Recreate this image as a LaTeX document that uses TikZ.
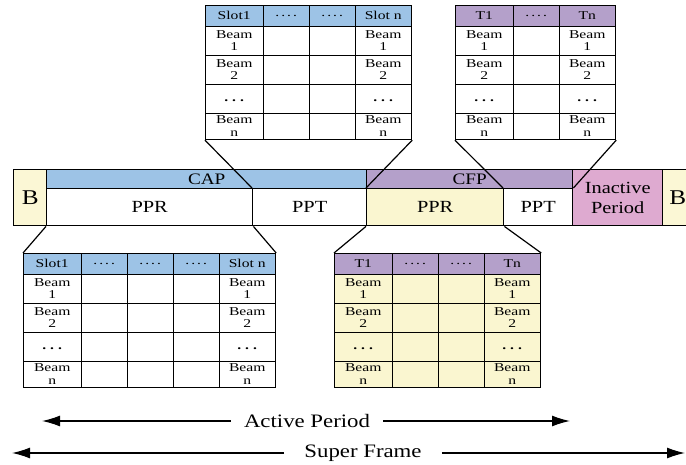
\documentclass[tikz,border=0pt]{standalone}
\usepackage{fontspec}
\setmainfont{Liberation Serif}
\newfontfamily\framefont{Liberation Serif}[FakeStretch=1.2]
\newfontfamily\cellfont{Liberation Serif}[FakeStretch=1.3]
\usetikzlibrary{arrows.meta}

\definecolor{capblue}{RGB}{157,195,230}
\definecolor{cfppurple}{RGB}{180,160,202}
\definecolor{byellow}{RGB}{251,247,213}
\definecolor{ppryellow}{RGB}{250,246,208}
\definecolor{inactpink}{RGB}{222,170,208}

% one zoomed table: name, position, middle columns, head colour, body colour, first/last head label
\newcommand{\beamtable}[7]{%
  \begin{scope}[shift={#2}]
    \pgfmathsetmacro{\lastx}{58+46*#3}
    \pgfmathsetmacro{\tablew}{\lastx+56}
    \node[headcell, fill=#4, minimum width=58pt] (#1-h0) at (0,0) {#6};
    \foreach \i in {1,...,#3}
      \node[headcell, fill=#4, minimum width=46pt] (#1-h\i) at ({58+46*(\i-1)},0) {.\,.\,.\,.};
    \node[headcell, fill=#4, minimum width=56pt] (#1-hn) at (\lastx,0) {#7};
    \foreach \r/\y/\h/\t in {1/21/29/{Beam\\1}, 2/50/29/{Beam\\2},
        3/79/29/{\raisebox{-5pt}{\textbf{.~.~.}}}, 4/108/26/{Beam\\n}} {
      \node[beamcell, fill=#5, minimum width=58pt, minimum height=\h pt] (#1-a\r) at (0,\y) {\t};
      \foreach \i in {1,...,#3}
        \node[beamcell, fill=#5, minimum width=46pt, minimum height=\h pt] (#1-m\r\i) at ({58+46*(\i-1)},\y) {};
      \node[beamcell, fill=#5, minimum width=56pt, minimum height=\h pt] (#1-z\r) at (\lastx,\y) {\t};
    }
    \node[tableframe, minimum width=\tablew pt] (#1) at (0,0) {};
  \end{scope}}

\begin{document}
\begin{tikzpicture}[x=1pt, y=-1pt,
    framebox/.style={draw, line width=1.4pt, anchor=north west, inner sep=0pt, align=center,
      font=\framefont\fontsize{17}{20}\selectfont},
    headcell/.style={draw, anchor=north west, inner sep=0pt, minimum height=21pt,
      font=\cellfont\fontsize{12}{12.5}\selectfont},
    beamcell/.style={draw, anchor=north west, inner sep=0pt, align=center,
      font=\cellfont\fontsize{12}{12.5}\selectfont},
    tableframe/.style={draw, line width=1.2pt, anchor=north west, inner sep=0pt, minimum height=134pt},
    zoomline/.style={line width=1.2pt},
    span/.style={line width=1.3pt, -{Latex[length=18pt,width=11pt]}},
    spanlabel/.style={font=\framefont\fontsize{19}{22}\selectfont, inner xsep=13pt}]
  \useasboundingbox (0,0) rectangle (686,465);
  \clip (0,0) rectangle (686,465);

  % super frame
  \node[framebox, fill=byellow, minimum width=33pt, minimum height=56pt, font=\framefont\fontsize{21}{22}\selectfont] (b1) at (13,169) {B};
  \node[framebox, fill=capblue, minimum width=320pt, minimum height=19pt, font=\framefont\fontsize{16}{18}\selectfont] (cap) at (46,169) {CAP};
  \node[framebox, fill=cfppurple, minimum width=206pt, minimum height=19pt, font=\framefont\fontsize{16}{18}\selectfont] (cfp) at (366,169) {CFP};
  \node[framebox, minimum width=206pt, minimum height=37pt] (ppr1) at (46,188) {PPR};
  \node[framebox, minimum width=114pt, minimum height=37pt] (ppt1) at (252,188) {PPT};
  \node[framebox, fill=ppryellow, minimum width=137pt, minimum height=37pt] (ppr2) at (366,188) {PPR};
  \node[framebox, minimum width=69pt, minimum height=37pt] (ppt2) at (503,188) {PPT};
  \node[framebox, fill=inactpink, minimum width=90pt, minimum height=56pt] (inact) at (572,169) {Inactive\\Period};
  \node[framebox, fill=byellow, minimum width=30pt, minimum height=56pt, font=\framefont\fontsize{21}{22}\selectfont] (b2) at (662,169) {B};

  % zoomed tables
  \beamtable{capT}{(205,5)}{2}{capblue}{white}{Slot1}{Slot n}
  \beamtable{cfpT}{(455,5)}{1}{cfppurple}{white}{T1}{Tn}
  \beamtable{capB}{(23,253)}{3}{capblue}{white}{Slot1}{Slot n}
  \beamtable{cfpB}{(334,253)}{2}{cfppurple}{ppryellow}{T1}{Tn}

  \draw[zoomline] (capT.south west) -- (ppt1.north west);
  \draw[zoomline] (capT.south east) -- (ppr2.north west);
  \draw[zoomline] (cfpT.south west) -- (ppt2.north west);
  \draw[zoomline] (cfpT.south east) -- (ppt2.north east);
  \draw[zoomline] (ppr1.south west) -- (capB.north west);
  \draw[zoomline] (ppr1.south east) -- (capB.north east);
  \draw[zoomline] (ppr2.south west) -- (cfpB.north west);
  \draw[zoomline] (ppr2.south east) -- (cfpB.north east);

  % periods
  \node[spanlabel] (active) at (307,421) {Active Period};
  \coordinate (activeL) at (42,421);
  \coordinate (activeR) at (570,421);
  \draw[span] (active.west) -- (activeL);
  \draw[span] (active.east) -- (activeR);
  \node[spanlabel, inner xsep=20pt] (super) at (363,453) {Super Frame};
  \coordinate (superL) at (12,453);
  \coordinate (superR) at (685,453);
  \draw[span] (super.west) -- (superL);
  \draw[span] (super.east) -- (superR);
\end{tikzpicture}
\end{document}
